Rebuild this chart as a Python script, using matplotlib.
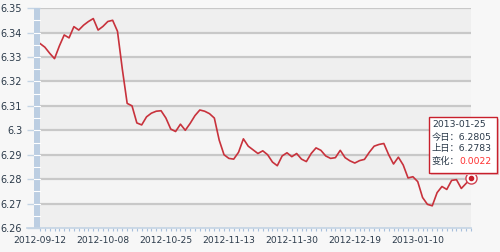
import matplotlib
matplotlib.use('Agg')
import matplotlib.pyplot as plt
from matplotlib.patches import Rectangle
import numpy as np

plt.rcParams['font.family'] = ['DejaVu Sans', 'Noto Sans CJK SC']

# daily fixing, one value per trading day (2012-09-12 .. 2013-01-25)
rates = [6.3355, 6.3340, 6.3315, 6.3293, 6.3345, 6.3390, 6.3378, 6.3424, 6.3410, 6.3430,
         6.3445, 6.3457, 6.3410, 6.3425, 6.3445, 6.3450, 6.3405, 6.3250, 6.3110, 6.3100,
         6.3030, 6.3022, 6.3055, 6.3070, 6.3078, 6.3080, 6.3050, 6.3005, 6.2995, 6.3025,
         6.3000, 6.3028, 6.3060, 6.3083, 6.3078, 6.3068, 6.3050, 6.2960, 6.2900, 6.2885,
         6.2882, 6.2910, 6.2965, 6.2935, 6.2920, 6.2905, 6.2916, 6.2900, 6.2870, 6.2855,
         6.2895, 6.2908, 6.2892, 6.2905, 6.2882, 6.2872, 6.2905, 6.2928, 6.2918, 6.2895,
         6.2885, 6.2888, 6.2918, 6.2888, 6.2875, 6.2866, 6.2876, 6.2881, 6.2910, 6.2935,
         6.2942, 6.2946, 6.2900, 6.2862, 6.2890, 6.2858, 6.2805, 6.2810, 6.2790, 6.2725,
         6.2697, 6.2691, 6.2745, 6.2770, 6.2758, 6.2795, 6.2798, 6.2762, 6.2783, 6.2805]
date_ticks = [0, 13, 26, 39, 52, 65, 78]
date_labels = ['2012-09-12', '2012-10-08', '2012-10-25', '2012-11-13',
               '2012-11-30', '2012-12-19', '2013-01-10']
y_ticks = [6.26, 6.27, 6.28, 6.29, 6.30, 6.31, 6.32, 6.33, 6.34, 6.35]

tip_date = '2013-01-25'
tip_today = 6.2805
tip_prev = 6.2783

x = np.arange(len(rates))
bg = '#f7f7f7'
blue = '#bccee2'
txt = '#2b3a4a'

fig = plt.figure(figsize=(5, 2.52), dpi=100, facecolor=bg)
ax = fig.add_axes([0.08, 0.095, 0.862, 0.873])
ax.set_facecolor(bg)
ax.set_xlim(0, len(rates) - 1)
ax.set_ylim(6.26, 6.35)

# alternating bands + grid
for k in range(len(y_ticks) - 1):
    ax.axhspan(y_ticks[k], y_ticks[k + 1], color=['#efefef', '#f5f5f5'][k % 2], lw=0, zorder=0)
for v in y_ticks[1:]:
    ax.axhline(v, color='#c8c8c8', lw=1.6, zorder=1)

# left blue bar with white notches
ax.add_patch(Rectangle((-0.014, 0), 0.014, 1, transform=ax.transAxes, color=blue,
                       clip_on=False, zorder=4, lw=0))
for v in np.arange(6.265, 6.35, 0.005):
    ax.plot([-0.014, 0], [(v - 6.26) / 0.09] * 2, transform=ax.transAxes, color='white',
            lw=0.8, clip_on=False, zorder=5)
ax.plot([-0.03, 1], [0, 0], transform=ax.transAxes, color='#c4d4e4', lw=1.2,
        clip_on=False, zorder=5)

for s in ax.spines.values():
    s.set_visible(False)

# sizes in points (1 px = 0.72 pt at 100 dpi)
ax.set_yticks(y_ticks)
ax.set_yticklabels(['%g' % v for v in y_ticks])
ax.tick_params(axis='y', length=9.4, width=1, color='#c4d4e4', pad=3.4,
               labelsize=7, labelcolor=txt)
ax.set_xticks(date_ticks)
ax.set_xticklabels(date_labels)
ax.set_xticks(x, minor=True)
ax.tick_params(axis='x', which='both', length=2.5, width=0.8, color='#a8c0dc', pad=3.5,
               labelsize=6.6, labelcolor=txt)

ax.plot(x, rates, color='#c8323c', lw=1.2, zorder=6, solid_joinstyle='round')
ax.plot(x[-1], rates[-1], 'o', ms=8, mfc='white', mec='#d04050', mew=1,
        clip_on=False, zorder=7)
ax.plot(x[-1], rates[-1], 'o', ms=3, color='#c8202c', clip_on=False, zorder=8)

# tooltip
fig.patches.append(Rectangle((0.862, 0.305), 0.136, 0.222, transform=fig.transFigure,
                             fc='#e6c4c8', ec='none', zorder=9))
fig.patches.append(Rectangle((0.858, 0.3135), 0.136, 0.222, transform=fig.transFigure,
                             fc='white', ec='#c8202c', lw=1, zorder=10))
fs = 6.7
fig.text(0.864, 0.504, tip_date, fontsize=fs, color=txt, va='center', zorder=11)
fig.text(0.864, 0.456, '今日：%.4f' % tip_today, fontsize=fs, color=txt, va='center', zorder=11)
fig.text(0.864, 0.409, '上日：%.4f' % tip_prev, fontsize=fs, color=txt, va='center', zorder=11)
t = fig.text(0.864, 0.361, '变化：', fontsize=fs, color=txt, va='center', zorder=11)
fig.texts.append(plt.Annotation('%.4f' % (tip_today - tip_prev), xy=(1, 0.5), xycoords=t,
                                va='center', fontsize=fs, color='#ff3030', zorder=11))
fig.texts[-1].set_figure(fig)

fig.savefig('out.png', dpi=100, facecolor=bg)
